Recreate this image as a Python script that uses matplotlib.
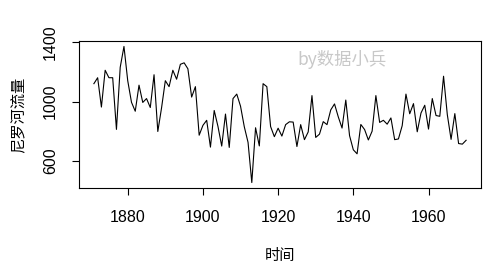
import numpy as np
import matplotlib.pyplot as plt

# Nile annual flow, 1871-1970
years = list(range(1871, 1971))
flow = [1120, 1160, 963, 1210, 1160, 1160, 813, 1230, 1370, 1140,
        995, 935, 1110, 994, 1020, 960, 1180, 799, 958, 1140,
        1100, 1210, 1150, 1250, 1260, 1220, 1030, 1100, 774, 840,
        874, 694, 940, 833, 701, 916, 692, 1020, 1050, 969,
        831, 726, 456, 824, 702, 1120, 1100, 832, 764, 821,
        768, 845, 864, 862, 698, 845, 744, 796, 1040, 759,
        781, 865, 845, 944, 984, 897, 822, 1010, 771, 676,
        649, 846, 812, 742, 801, 1040, 860, 874, 848, 890,
        744, 749, 838, 1050, 918, 986, 797, 923, 975, 815,
        1020, 906, 901, 1170, 912, 746, 919, 718, 714, 740]
x_ticks = [1880, 1900, 1920, 1940, 1960]
y_ticks = [600, 1000, 1400]

plt.rcParams['font.family'] = ['Liberation Sans', 'Noto Sans CJK SC', 'DejaVu Sans']
cjk = ['Noto Sans CJK SC', 'DejaVu Sans']

fig = plt.figure(figsize=(5.01, 2.77), dpi=100)
ax = fig.add_axes([79 / 501, (277 - 188) / 277, (481 - 79) / 501, (188 - 41) / 277])

ax.plot(years, flow, color='black', linewidth=0.8)

# R style 4% padding
xr = years[-1] - years[0]
ax.set_xlim(years[0] - 0.04 * xr, years[-1] + 0.04 * xr)
yr = max(flow) - min(flow)
ax.set_ylim(min(flow) - 0.04 * yr, max(flow) + 0.04 * yr)

ax.set_xticks(x_ticks)
ax.set_yticks(y_ticks)
ax.tick_params(direction='out', length=5, width=0.8, labelsize=11.5)
ax.tick_params(axis='x', pad=11)
ax.tick_params(axis='y', pad=10)
plt.setp(ax.get_yticklabels(), rotation=90, va='center')
for s in ax.spines.values():
    s.set_linewidth(0.8)

ax.set_xlabel('时间', family=cjk, fontsize=11, labelpad=16)
ax.set_ylabel('尼罗河流量', family=cjk, fontsize=11, labelpad=12)

ax.text(0.542, 0.871, 'by数据小兵', transform=ax.transAxes, color='#c8c8c8',
        fontsize=12.5, va='center', family=cjk)

fig.savefig('out.png', dpi=100)
